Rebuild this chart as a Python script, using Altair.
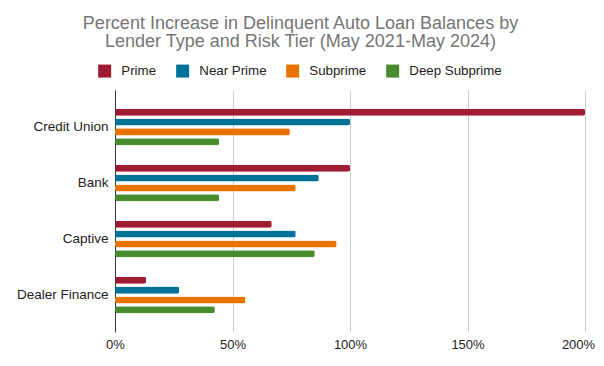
import altair as alt
import pandas as pd

lenders = ["Credit Union", "Bank", "Captive", "Dealer Finance"]
tiers = ["Prime", "Near Prime", "Subprime", "Deep Subprime"]
prime = [200, 100, 66.7, 13.2]
near_prime = [100, 86.7, 76.9, 27.3]
subprime = [74.4, 76.9, 94.3, 55.5]
deep_subprime = [44.3, 44.3, 85.0, 42.5]
colors = ["#9E1B32", "#00729A", "#E87400", "#4A8A2F"]
x_ticks = [0, 50, 100, 150, 200]
title_lines = ["Percent Increase in Delinquent Auto Loan Balances by",
               "Lender Type and Risk Tier (May 2021-May 2024)"]

rows = []
for tier, vals in zip(tiers, [prime, near_prime, subprime, deep_subprime]):
    for lender, v in zip(lenders, vals):
        rows.append({"Lender": lender, "Tier": tier, "Value": v})
df = pd.DataFrame(rows)

FONT = "Liberation Sans"

chart = alt.Chart(df).mark_bar(cornerRadius=2).encode(
    x=alt.X("Value:Q",
            scale=alt.Scale(domain=[0, 200], nice=False),
            axis=alt.Axis(values=x_ticks, labelExpr="datum.value + '%'", title=None,
                          domain=False, ticks=False, grid=True, gridColor="#cccccc",
                          labelPadding=6, labelFontSize=13, labelColor="#222222",
                          labelFont=FONT, labelFlush=False,
                          labelOffset={"condition": {"test": "datum.value === 200", "value": -7},
                                       "value": 0})),
    y=alt.Y("Lender:N", sort=lenders,
            scale=alt.Scale(paddingInner=0, paddingOuter=0.16),
            axis=alt.Axis(title=None, ticks=False, domain=True, domainColor="#333333",
                          labelPadding=7, labelFontSize=13.5, labelColor="#222222",
                          labelFont=FONT, grid=False)),
    yOffset=alt.YOffset("Tier:N", sort=tiers,
                        scale=alt.Scale(paddingInner=0.2857, paddingOuter=1.0)),
    color=alt.Color("Tier:N", sort=tiers,
                    scale=alt.Scale(domain=tiers, range=colors),
                    legend=alt.Legend(title=None, orient="none", legendX=-17, legendY=-26,
                                      direction="horizontal", symbolType="square",
                                      symbolSize=169, symbolStrokeWidth=0,
                                      labelFontSize=13.3, labelColor="#222222", labelFont=FONT,
                                      labelOffset=10, columnPadding=19)),
).properties(
    width=470, height=242,
    title=alt.TitleParams(text=title_lines, fontSize=18, color="#757575", font=FONT,
                          fontWeight="normal", anchor="middle", dx=-49.5, lineHeight=18,
                          offset=13),
    autosize=alt.AutoSizeParams(type="none"),
    padding={"left": 107, "top": 82, "right": 11, "bottom": 26},
).configure_view(stroke=None)

chart.save("out.html", embed_options={"renderer": "svg", "actions": False})
